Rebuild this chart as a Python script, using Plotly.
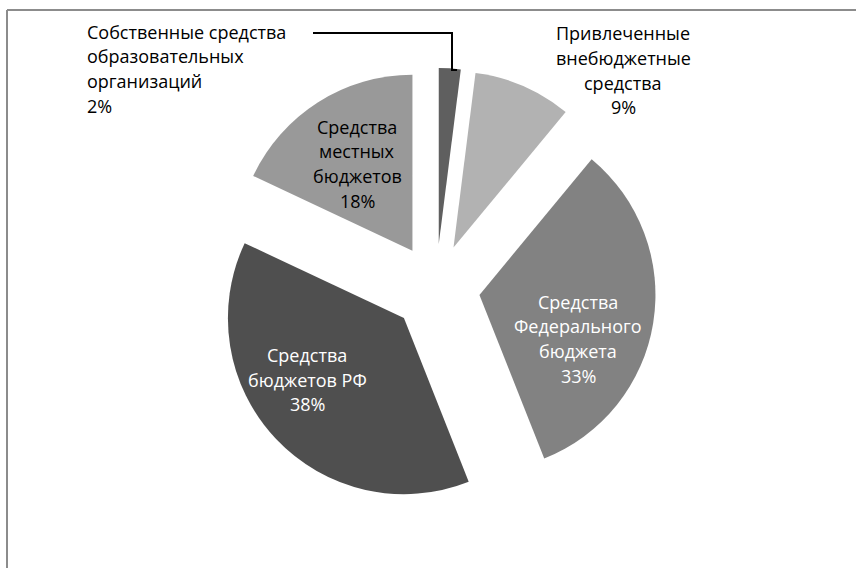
import plotly.graph_objects as go

# Funding sources of educational organisations, share of total (%)
categories = [
    "Собственные средства образовательных организаций",
    "Привлеченные внебюджетные средства",
    "Средства Федерального бюджета",
    "Средства бюджетов РФ",
    "Средства местных бюджетов",
]
shares = [2, 9, 33, 38, 18]
label_lines = [
    ["Собственные средства", "образовательных", "организаций"],
    ["Привлеченные", "внебюджетные", "средства"],
    ["Средства", "Федерального", "бюджета"],
    ["Средства", "бюджетов РФ"],
    ["Средства", "местных", "бюджетов"],
]
slice_colors = ["#5f5f5f", "#b2b2b2", "#828282", "#4f4f4f", "#999999"]

W, H = 856, 568
FONT = "Open Sans"
FSIZE = 18
LINE_STEP = 24.6


def px(x):
    return x / W


def py(y):
    return 1 - y / H


# label block placement: (x, first line y, x anchor, text colour)
label_style = [
    (85, 31.7, "left", "#000000"),
    (623, 33.3, "center", "#000000"),
    (578, 301.7, "center", "#ffffff"),
    (307, 355.0, "center", "#ffffff"),
    (357, 126.7, "center", "#000000"),
]

fig = go.Figure(
    go.Pie(
        labels=categories,
        values=shares,
        sort=False,
        direction="clockwise",
        rotation=0,
        pull=[0.25] * len(shares),
        marker=dict(colors=slice_colors, line=dict(width=0)),
        textinfo="none",
        hoverinfo="label+percent",
        domain=dict(x=[px(216), px(656)], y=[py(508), py(68)]),
        showlegend=False,
    )
)

annotations = []
for lines, value, (x0, y0, anchor, color) in zip(label_lines, shares, label_style):
    for i, line in enumerate(lines + [f"{value}%"]):
        annotations.append(
            dict(
                text=line,
                x=px(x0),
                y=py(y0 + i * LINE_STEP),
                xref="paper",
                yref="paper",
                xanchor=anchor,
                yanchor="middle",
                showarrow=False,
                font=dict(family=FONT, size=FSIZE, color=color),
            )
        )

shapes = [
    # chart frame (left and top edges)
    dict(type="line", xref="paper", yref="paper", x0=px(7), y0=py(10), x1=px(7), y1=py(H + 5),
         line=dict(color="#8c8c8c", width=2)),
    dict(type="line", xref="paper", yref="paper", x0=px(7), y0=py(10), x1=px(W + 5), y1=py(10),
         line=dict(color="#8c8c8c", width=2)),
    # leader line to the smallest slice
    dict(type="path", xref="paper", yref="paper",
         path=(f"M {px(313)} {py(33)} L {px(452)} {py(33)} "
               f"L {px(452)} {py(70)} L {px(457)} {py(70)}"),
         line=dict(color="#000000", width=2)),
]

fig.update_layout(
    width=W,
    height=H,
    margin=dict(l=0, r=0, t=0, b=0),
    paper_bgcolor="#ffffff",
    plot_bgcolor="#ffffff",
    annotations=annotations,
    shapes=shapes,
    font=dict(family=FONT, size=FSIZE),
)

fig.write_html("out.html")
